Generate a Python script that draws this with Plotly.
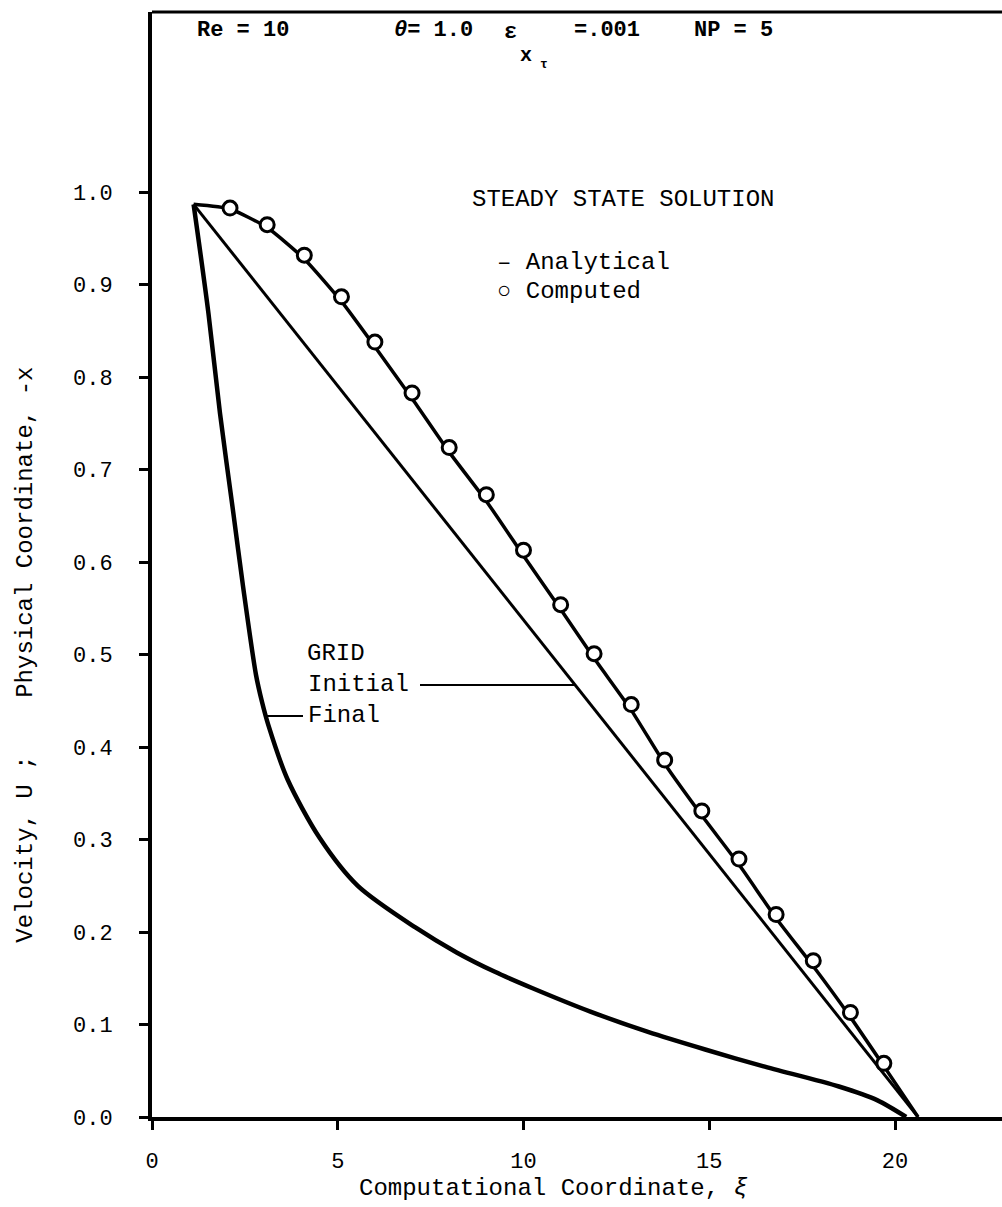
import plotly.graph_objects as go

# ---------------- data ----------------
computed_xi = [2.1, 3.1, 4.1, 5.1, 6.0, 7.0, 8.0, 9.0, 10.0, 11.0, 11.9, 12.9, 13.8, 14.8, 15.8, 16.8, 17.8, 18.8, 19.7]
computed_u = [0.983, 0.965, 0.932, 0.887, 0.838, 0.783, 0.724, 0.673, 0.613, 0.554, 0.501, 0.446, 0.386, 0.331, 0.279, 0.219, 0.169, 0.113, 0.058]

analytical_xi = [1.12, 2.1, 3.1, 4.1, 5.1, 6.0, 7.0, 8.0, 9.0, 10.0, 11.0, 11.9, 12.9, 13.8, 14.8, 15.8, 16.8, 17.8, 18.8, 19.7, 20.62]
analytical_u = [0.987, 0.982, 0.962, 0.928, 0.882, 0.833, 0.777, 0.719, 0.666, 0.607, 0.549, 0.496, 0.440, 0.382, 0.326, 0.273, 0.215, 0.163, 0.108, 0.055, 0.0]

initial_xi = [1.12, 20.62]
initial_x = [0.987, 0.0]

final_xi = [1.12, 1.52, 1.83, 2.19, 2.45, 2.80, 2.96, 3.13, 3.65, 4.51, 5.54, 7.09, 8.20, 9.23, 10.26, 11.80, 13.35, 14.89, 16.44, 18.49, 19.53, 20.3]
final_x = [0.987, 0.869, 0.761, 0.653, 0.574, 0.478, 0.449, 0.424, 0.365, 0.302, 0.250, 0.205, 0.178, 0.157, 0.139, 0.114, 0.092, 0.073, 0.055, 0.033, 0.018, 0.0]

y_ticks = [0.0, 0.1, 0.2, 0.3, 0.4, 0.5, 0.6, 0.7, 0.8, 0.9, 1.0]
y_tick_text = ["0.0", "0.1", "0.2", "0.3", "0.4", "0.5", "0.6", "0.7", "0.8", "0.9", "1.0"]
x_ticks = [0, 5, 10, 15, 20]
x_tick_text = ["0", "5", "10", "15", "20"]

# ---------------- layout geometry (pixels) ----------------
W, H = 1002, 1207
L, R, T, B = 152, 0, 12, 90
PW, PH = W - L - R, H - T - B
X_MAX = 22.88
Y_MAX = 1.195
MONO = "Liberation Mono, Courier New, monospace"


def px(x):
    return (x - L) / PW


def py(y):
    return (H - B - y) / PH


fig = go.Figure()

fig.add_trace(go.Scatter(x=final_xi, y=final_x, mode="lines",
                         line=dict(color="black", width=4.5, shape="spline", smoothing=0.8),
                         showlegend=False))
fig.add_trace(go.Scatter(x=initial_xi, y=initial_x, mode="lines",
                         line=dict(color="black", width=3), showlegend=False))
fig.add_trace(go.Scatter(x=analytical_xi, y=analytical_u, mode="lines",
                         line=dict(color="black", width=3.5, shape="spline", smoothing=0.5),
                         showlegend=False))
fig.add_trace(go.Scatter(x=computed_xi, y=computed_u, mode="markers",
                         marker=dict(symbol="circle", size=14, color="white",
                                     line=dict(color="black", width=3)),
                         showlegend=False))

ann = []


def text(x, y, s, size=24, anchor="left", bold=False, font=MONO):
    if bold:
        s = "<b>" + s + "</b>"
    ann.append(dict(xref="paper", yref="paper", x=px(x), y=py(y), text=s,
                    showarrow=False, xanchor=anchor, yanchor="middle",
                    font=dict(family=font, size=size, color="black")))


NB = "\u00a0"
# header
text(195, 30, "Re" + NB + "=" + NB + "10", size=22, bold=True)
text(392, 30, "<i>θ</i>=" + NB + "1.0", size=22, bold=True)
text(502, 32, "ε", size=22, bold=True)
text(518, 56, "x", size=20, bold=True)
text(538, 64, "τ", size=13, bold=True)
text(572, 30, "=.001", size=22, bold=True)
text(692, 30, "NP" + NB + "=" + NB + "5", size=22, bold=True)

# legend block
text(470, 200, "STEADY" + NB + "STATE" + NB + "SOLUTION", size=24)
text(495, 262, "–" + NB + "Analytical", size=24)
text(495, 291, "○" + NB + "Computed", size=24)

# grid labels
text(305, 654, "GRID", size=24)
text(306, 684, "Initial", size=24)
text(306, 715, "Final", size=24)

# axis titles
ann.append(dict(xref="paper", yref="y", x=px(26), y=0.5,
                text="Velocity," + NB + "U" + NB + ";" + NB * 4 + "Physical" + NB + "Coordinate," + NB + "-x",
                showarrow=False, textangle=-90, xanchor="center", yanchor="middle",
                font=dict(family=MONO, size=24, color="black")))
ann.append(dict(xref="x", yref="paper", x=10.8, y=py(1188),
                text="Computational" + NB + "Coordinate," + NB + "<i>ξ</i>",
                showarrow=False, xanchor="center", yanchor="middle",
                font=dict(family=MONO, size=24, color="black")))

shapes = [
    # top frame line
    dict(type="line", xref="paper", yref="paper", x0=0, x1=1, y0=1, y1=1,
         line=dict(color="black", width=3)),
    # leader lines
    dict(type="line", xref="paper", yref="paper", x0=px(420), x1=px(576), y0=py(685), y1=py(685),
         line=dict(color="black", width=2)),
    dict(type="line", xref="paper", yref="paper", x0=px(266), x1=px(303), y0=py(716), y1=py(716),
         line=dict(color="black", width=2)),
]

fig.update_layout(
    width=W, height=H,
    margin=dict(l=L, r=R, t=T, b=B, pad=0),
    paper_bgcolor="white", plot_bgcolor="white",
    annotations=ann, shapes=shapes,
    xaxis=dict(range=[0, X_MAX], showgrid=False, zeroline=False,
               showline=True, linecolor="black", linewidth=4,
               tickmode="array", tickvals=x_ticks, ticktext=x_tick_text,
               ticks="outside", ticklen=9, tickwidth=3, tickcolor="black",
               ticklabelstandoff=12,
               tickfont=dict(family=MONO, size=22, color="black")),
    yaxis=dict(range=[0, Y_MAX], showgrid=False, zeroline=False,
               showline=True, linecolor="black", linewidth=4,
               tickmode="array", tickvals=y_ticks, ticktext=y_tick_text,
               ticks="outside", ticklen=9, tickwidth=3, tickcolor="black",
               ticklabelstandoff=22,
               tickfont=dict(family=MONO, size=22, color="black")),
)

fig.write_html("out.html")
